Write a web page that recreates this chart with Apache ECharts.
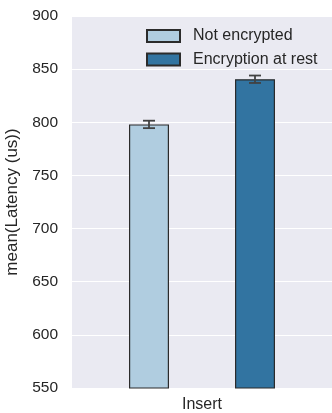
<!DOCTYPE html>
<html>
<head>
<meta charset="utf-8">
<script src="https://cdn.jsdelivr.net/npm/echarts@6/dist/echarts.min.js"></script>
<style>
  html, body { margin: 0; padding: 0; background: #ffffff; }
  #chart { width: 332px; height: 413px; }
</style>
</head>
<body>
<div id="chart"></div>
<script>
// Mean insert latency, with and without encryption at rest
const categories = ['Insert'];
const seriesNames = ['Not encrypted', 'Encryption at rest'];
const meanLatency = [798, 840.5];          // microseconds
const errLow = [794.5, 837];               // lower end of the error bar
const errHigh = [801.5, 844];              // upper end of the error bar
const yTicks = { min: 550, max: 900, step: 50 };

const colors = ['#b0cde0', '#3274a1'];
const FONT = '"Liberation Sans", Arial, sans-serif';
const BAR_W = 40;      // px
const BAR_GAP = 66;    // px between the two bars

const chart = echarts.init(document.getElementById('chart'), null, { renderer: 'canvas' });

const barSeries = seriesNames.map((name, i) => ({
  name: name,
  type: 'bar',
  data: [meanLatency[i]],
  barWidth: BAR_W,
  barGap: (BAR_GAP / BAR_W * 100) + '%',
  itemStyle: { color: colors[i], borderColor: '#2b2b2b', borderWidth: 1.2 },
  emphasis: { disabled: true },
  z: 2
}));

// Error bars drawn at the centre of each bar
const errorSeries = {
  type: 'custom',
  data: seriesNames.map((_, i) => [0, errLow[i], errHigh[i], i]),
  renderItem: function (params, api) {
    const idx = api.value(3);
    const offset = (idx === 0 ? -1 : 1) * (BAR_W + BAR_GAP) / 2;
    const lo = api.coord([api.value(0), api.value(1)]);
    const hi = api.coord([api.value(0), api.value(2)]);
    const x = lo[0] + offset;
    const cap = 6;
    const style = { stroke: '#424242', lineWidth: 1.8 };
    return {
      type: 'group',
      children: [
        { type: 'line', shape: { x1: x, y1: lo[1], x2: x, y2: hi[1] }, style: style },
        { type: 'line', shape: { x1: x - cap, y1: lo[1], x2: x + cap, y2: lo[1] }, style: style },
        { type: 'line', shape: { x1: x - cap, y1: hi[1], x2: x + cap, y2: hi[1] }, style: style }
      ]
    };
  },
  z: 5,
  silent: true
};

chart.setOption({
  animation: false,
  backgroundColor: '#ffffff',
  textStyle: { fontFamily: FONT },
  grid: {
    left: 72, right: 0, top: 16, bottom: 25,
    containLabel: false,
    outerBoundsMode: 'none',
    show: true, backgroundColor: '#eaeaf2', borderWidth: 0
  },
  legend: {
    data: seriesNames,
    orient: 'vertical',
    left: 146,
    top: 28,
    padding: 0,
    itemWidth: 33,
    itemHeight: 12,
    itemGap: 7.4,
    icon: 'rect',
    textStyle: { fontFamily: FONT, fontSize: 16, color: '#262626', lineHeight: 16, padding: [0, 0, 0, 8] },
    selectedMode: false
  },
  xAxis: {
    type: 'category',
    data: categories,
    axisLine: { show: false },
    axisTick: { show: false },
    axisLabel: { fontFamily: FONT, fontSize: 16, color: '#262626', margin: 9 },
    splitLine: { show: false }
  },
  yAxis: {
    type: 'value',
    min: yTicks.min,
    max: yTicks.max,
    interval: yTicks.step,
    name: 'mean(Latency (us))',
    nameLocation: 'middle',
    nameGap: 49,
    nameTextStyle: { fontFamily: FONT, fontSize: 17, color: '#262626' },
    axisLine: { show: false },
    axisTick: { show: false },
    axisLabel: { fontFamily: FONT, fontSize: 15.5, color: '#262626', margin: 14 },
    splitLine: { show: true, lineStyle: { color: '#ffffff', width: 1.2 } }
  },
  series: barSeries.concat([errorSeries])
});
</script>
</body>
</html>
